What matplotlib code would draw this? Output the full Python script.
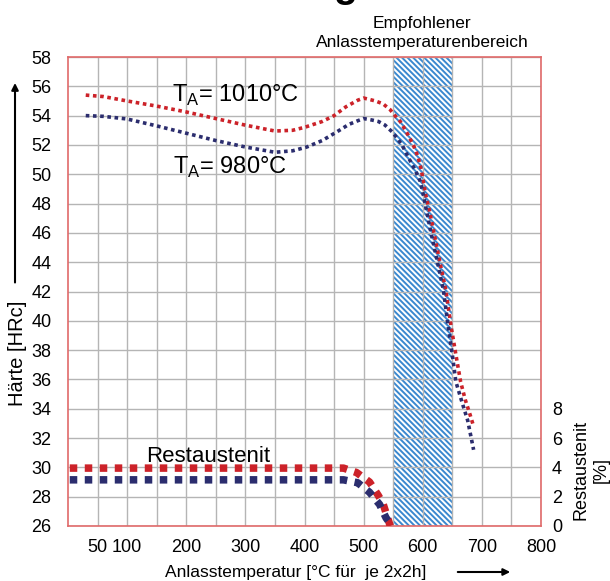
import matplotlib
matplotlib.use("Agg")
import matplotlib.pyplot as plt
import numpy as np

plt.rcParams['font.family'] = ['Liberation Sans', 'DejaVu Sans']
plt.rcParams['hatch.linewidth'] = 1.4
plt.rcParams['mathtext.fontset'] = 'custom'
plt.rcParams['mathtext.rm'] = 'Liberation Sans'

# Haerte-Verlauf T_A = 1010 C
t_1010 = [30, 60, 100, 150, 200, 250, 300, 350, 380, 400, 430, 450, 470, 490,
          500, 510, 520, 533, 545, 553, 562, 575, 585, 592, 598, 605, 612, 619,
          629, 639, 648, 656, 664, 672, 680, 686]
hrc_1010 = [55.4, 55.3, 55.0, 54.65, 54.25, 53.8, 53.35, 52.95, 53.0, 53.2,
            53.6, 54.0, 54.6, 55.05, 55.2, 55.1, 55.0, 54.8, 54.4, 54.0, 53.6,
            52.7, 51.9, 51.2, 50.2, 48.6, 47.4, 46.0, 44.0, 42.1, 39.6, 37.7,
            35.85, 34.6, 33.6, 32.8]

# Haerte-Verlauf T_A = 980 C
t_980 = [30, 60, 100, 150, 200, 250, 300, 350, 380, 404, 430, 455, 475, 490,
         500, 514, 525, 536, 548, 556, 565, 575, 587, 596, 601, 607, 614, 625,
         635, 643, 650, 656, 666, 676, 686]
hrc_980 = [54.0, 53.95, 53.77, 53.3, 52.8, 52.3, 51.86, 51.5, 51.6, 51.86,
           52.3, 52.9, 53.4, 53.65, 53.8, 53.7, 53.6, 53.36, 52.9, 52.5, 52.0,
           51.2, 50.3, 49.5, 48.6, 47.4, 46.0, 44.0, 42.1, 39.6, 37.7, 35.85,
           34.5, 33.2, 31.2]

# Restaustenit [%]
t_ra = [3, 100, 200, 300, 400, 466, 488, 510, 525, 533, 545]
ra_1010 = [3.95, 3.95, 3.95, 3.95, 3.95, 3.95, 3.65, 3.0, 2.07, 1.5, 0.0]
t_ra2 = [3, 100, 200, 300, 400, 466, 490, 510, 527, 538, 548]
ra_980 = [3.15, 3.15, 3.15, 3.15, 3.15, 3.15, 2.95, 2.3, 1.47, 0.55, 0.0]

xticks = [50, 100, 200, 300, 400, 500, 600, 700, 800]
yticks = list(range(26, 59, 2))
ra_ticks = [0, 2, 4, 6, 8]
range_lo, range_hi = 550, 650

red = '#cc2229'
navy = '#2b2d6e'
frame = '#e06a6a'

fig = plt.figure(figsize=(6.1, 5.81), dpi=100)
ax = fig.add_axes([68/610, 55/581, 473/610, 469/581])

ax.axvspan(range_lo, range_hi, facecolor='white', edgecolor='#3a88cf',
           hatch='\\\\\\\\\\\\', linewidth=0, zorder=0.3)

ax.plot(t_1010, hrc_1010, color=red, lw=2.6, linestyle=(0, (1, 1)), zorder=3)
ax.plot(t_980, hrc_980, color=navy, lw=2.6, linestyle=(0, (1, 1)), zorder=3)

ax.set_xlim(0, 800)
ax.set_ylim(26, 58)
ax.set_xticks(xticks)
ax.set_xticks(np.arange(150, 800, 100), minor=True)
ax.set_yticks(yticks)
ax.tick_params(length=0, labelsize=13, pad=12, which='both')
ax.tick_params(axis='x', pad=9)
ax.set_axisbelow(True)
ax.grid(True, which='both', color='#b5b5b5', lw=1)
for s in ax.spines.values():
    s.set_color(frame)
    s.set_linewidth(1.2)

ax2 = ax.twinx()
ax2.set_ylim(0, 32)
ax2.set_yticks(ra_ticks)
ax2.tick_params(length=0, labelsize=13, pad=8)
for s in ax2.spines.values():
    s.set_visible(False)
ax2.plot(t_ra, ra_1010, color=red, lw=5.4, linestyle=(0, (1, 1)), zorder=3)
ax2.plot(t_ra2, ra_980, color=navy, lw=5.4, linestyle=(0, (1, 1)), zorder=3)

ax.text(176, 54.95, r'T$_\mathregular{A}$= 1010°C', fontsize=17, va='baseline')
ax.text(178, 50.0, r'T$_\mathregular{A}$= 980°C', fontsize=17, va='baseline')
ax.text(132, 30.4, 'Restaustenit', fontsize=16, va='baseline')

fig.text(0.692, 0.914, 'Empfohlener\nAnlasstemperaturenbereich', fontsize=12.5,
         ha='center', va='bottom', linespacing=1.3)
fig.text(0.5656, 1.006, 'g', fontsize=28, fontweight='bold', ha='center',
         va='baseline')

fig.text(0.028, 0.392, 'Härte [HRc]', fontsize=14.5, rotation=90,
         ha='center', va='center')
ax2.annotate('', xy=(0.0246, 0.862), xytext=(0.0246, 0.509),
             xycoords='figure fraction', annotation_clip=False,
             arrowprops=dict(arrowstyle='-|>', color='black', lw=1.5))

fig.text(0.484, 1 - 572/581, 'Anlasstemperatur [°C für  je 2x2h]', fontsize=12.5,
         ha='center', va='center')
ax2.annotate('', xy=(513/610, 1 - 572/581), xytext=(455/610, 1 - 572/581),
             xycoords='figure fraction', annotation_clip=False,
             arrowprops=dict(arrowstyle='-|>', color='black', lw=1.5))

fig.text(591/610, 1 - 470/581, 'Restaustenit\n[%]', fontsize=13, rotation=90,
         ha='center', va='center', multialignment='center')

fig.savefig('out.png', dpi=100)
